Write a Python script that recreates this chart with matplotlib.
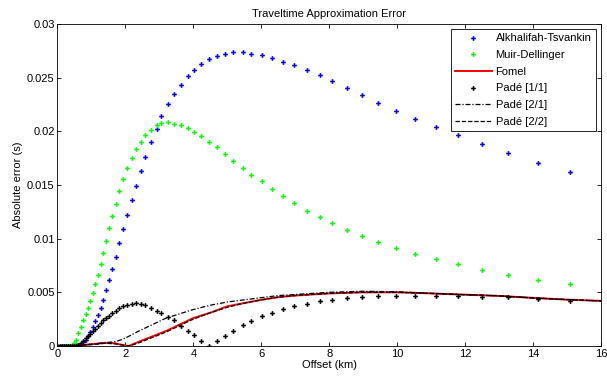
import matplotlib
matplotlib.use("Agg")
import matplotlib.pyplot as plt

# offsets (km) at which the dotted series are sampled
offset = [0.0, 0.06, 0.12, 0.18, 0.24, 0.30, 0.36, 0.42, 0.48, 0.545,
          0.613, 0.69, 0.757, 0.826, 0.895, 0.953, 1.04, 1.11, 1.18, 1.27,
          1.35, 1.42, 1.51, 1.61, 1.71, 1.82, 1.94, 2.06, 2.19, 2.31,
          2.47, 2.59, 2.75, 2.92, 3.06, 3.26, 3.43, 3.63, 3.83, 4.02,
          4.22, 4.46, 4.70, 4.93, 5.18, 5.45, 5.71, 6.01, 6.32, 6.64,
          6.97, 7.35, 7.72, 8.09, 8.52, 8.98, 9.45, 9.97, 10.52, 11.13,
          11.79, 12.49, 13.26, 14.14, 15.10]

alkhalifah = [0, 0, 0, 0, 0, 0, 0, 0, 0.00002, 0.00005,
              0.0001, 0.0002, 0.0004, 0.0006, 0.0009, 0.0013, 0.0018, 0.00233, 0.00289, 0.00351,
              0.00429, 0.00519, 0.00618, 0.00717, 0.00832, 0.00957, 0.01087, 0.0122, 0.0136, 0.01494,
              0.0163, 0.01764, 0.01898, 0.02019, 0.0214, 0.02252, 0.02345, 0.02432, 0.02513, 0.02569,
              0.02624, 0.02674, 0.02705, 0.0272, 0.02739, 0.02736, 0.02725, 0.02711, 0.0268, 0.02646,
              0.02615, 0.02569, 0.02522, 0.02466, 0.02401, 0.02336, 0.02264, 0.02192, 0.02118, 0.0204,
              0.01963, 0.01882, 0.01795, 0.01708, 0.01618]

muir = [0, 0, 0, 0, 0, 0, 0.00003, 0.0001, 0.0003, 0.0006,
        0.00118, 0.0018, 0.00242, 0.00298, 0.00357, 0.00419, 0.00491, 0.00575, 0.00661, 0.00761,
        0.00869, 0.00981, 0.01096, 0.01211, 0.01326, 0.01447, 0.01556, 0.01661, 0.01754, 0.01832,
        0.01904, 0.01966, 0.02012, 0.02059, 0.02075, 0.02084, 0.02071, 0.02059, 0.02034, 0.01994,
        0.01957, 0.01904, 0.01851, 0.01789, 0.01727, 0.01661, 0.01596, 0.01534, 0.01463, 0.01398,
        0.01332, 0.01261, 0.01199, 0.01143, 0.01078, 0.01022, 0.00966, 0.0091, 0.00854, 0.00808,
        0.00761, 0.00711, 0.00664, 0.00615, 0.00578]

pade11 = [0, 0, 0, 0, 0, 0, 0, 0, 0, 0.00003,
          0.0001, 0.0003, 0.0005, 0.0007, 0.0009, 0.0011, 0.0014, 0.0016, 0.0019, 0.0021,
          0.0024, 0.0026, 0.0028, 0.0031, 0.0033, 0.0035, 0.0037, 0.0038, 0.0039, 0.0040,
          0.0039, 0.0038, 0.0035, 0.0033, 0.0031, 0.0027, 0.0024, 0.0019, 0.0014, 0.0010,
          0.0005, 0.0, 0.0005, 0.0009, 0.0014, 0.0020, 0.0023, 0.0028, 0.0031, 0.0034,
          0.0037, 0.0039, 0.0042, 0.0043, 0.0045, 0.0046, 0.0047, 0.0047, 0.0047, 0.0047,
          0.00466, 0.0046, 0.00452, 0.0044, 0.0042]

# continuous curves
line_offset = [0, 0.5, 0.8, 1.1, 1.4, 1.7, 1.9, 2.1, 2.4, 2.8,
               3.2, 3.6, 4.0, 4.5, 5.0, 5.5, 6.0, 6.5, 7.0, 7.5,
               8.0, 9.0, 10.0, 11.0, 12.0, 13.0, 14.0, 15.0, 16.0]
fomel = [0, 0, 0.0001, 0.0002, 0.0003, 0.00025, 0.0001, 0.0, 0.0004, 0.0009,
         0.0014, 0.0020, 0.0026, 0.0031, 0.0037, 0.0040, 0.0043, 0.00455, 0.0047, 0.0048,
         0.0049, 0.0050, 0.0050, 0.0049, 0.00478, 0.00467, 0.00448, 0.00432, 0.0042]
pade22 = [0, 0, 0.0001, 0.00015, 0.00025, 0.0002, 0.0001, 0.0, 0.0003, 0.0008,
          0.0013, 0.0019, 0.0025, 0.0031, 0.0036, 0.0040, 0.0043, 0.00455, 0.0047, 0.0048,
          0.0049, 0.0050, 0.0050, 0.0049, 0.00478, 0.00467, 0.00448, 0.00432, 0.0042]
pade21 = [0, 0, 0.0001, 0.0002, 0.0003, 0.0004, 0.0006, 0.0009, 0.0014, 0.0020,
          0.0026, 0.0030, 0.0034, 0.0038, 0.0041, 0.0043, 0.0045, 0.0047, 0.0048, 0.0049,
          0.0050, 0.0051, 0.00505, 0.0049, 0.00478, 0.00467, 0.00448, 0.00432, 0.0042]

xticks = list(range(0, 17, 2))
yticks = [0, 0.005, 0.01, 0.015, 0.02, 0.025, 0.03]
ytick_labels = ["0", "0.005", "0.01", "0.015", "0.02", "0.025", "0.03"]

plt.rcParams['font.family'] = ['Liberation Sans', 'DejaVu Sans']
plt.rcParams['font.size'] = 8

fig = plt.figure(figsize=(6.07, 3.80), dpi=100)
ax = fig.add_axes([0.0947, 0.0895, 0.8953, 0.8473])

ax.plot(offset, alkhalifah, ls='none', marker='P', ms=3.4, mew=0, color='#0000ff', label='Alkhalifah-Tsvankin')
ax.plot(offset, muir, ls='none', marker='P', ms=3.4, mew=0, color='#00ff00', label='Muir-Dellinger')
ax.plot(line_offset, fomel, color='#ff0000', lw=1.4, label='Fomel')
ax.plot(offset, pade11, ls='none', marker='P', ms=3.4, mew=0, color='black', label='Padé [1/1]')
ax.plot(line_offset, pade21, color='black', lw=0.9, ls=(0, (4, 1.5, 1, 1.5)), label='Padé [2/1]')
ax.plot(line_offset, pade22, color='black', lw=0.9, ls=(0, (3.5, 1.5)), label='Padé [2/2]')

ax.set_xlim(0, 16)
ax.set_ylim(0, 0.03)
ax.set_xticks(xticks)
ax.set_yticks(yticks)
ax.set_yticklabels(ytick_labels)
ax.tick_params(direction='in', top=True, right=True, length=3, width=0.6, pad=2)
for s in ax.spines.values():
    s.set_linewidth(0.6)

ax.set_title('Traveltime Approximation Error', fontsize=8, pad=5)
ax.set_xlabel('Offset (km)', labelpad=1)
ax.set_ylabel('Absolute error (s)', labelpad=3)

leg = ax.legend(loc='upper right', fontsize=8, fancybox=False, framealpha=1,
                edgecolor='black', handlelength=3.3, handletextpad=0.35,
                borderaxespad=0.45, labelspacing=0.6, borderpad=0.4)
leg.get_frame().set_linewidth(0.6)

fig.savefig('out.png', dpi=100)
